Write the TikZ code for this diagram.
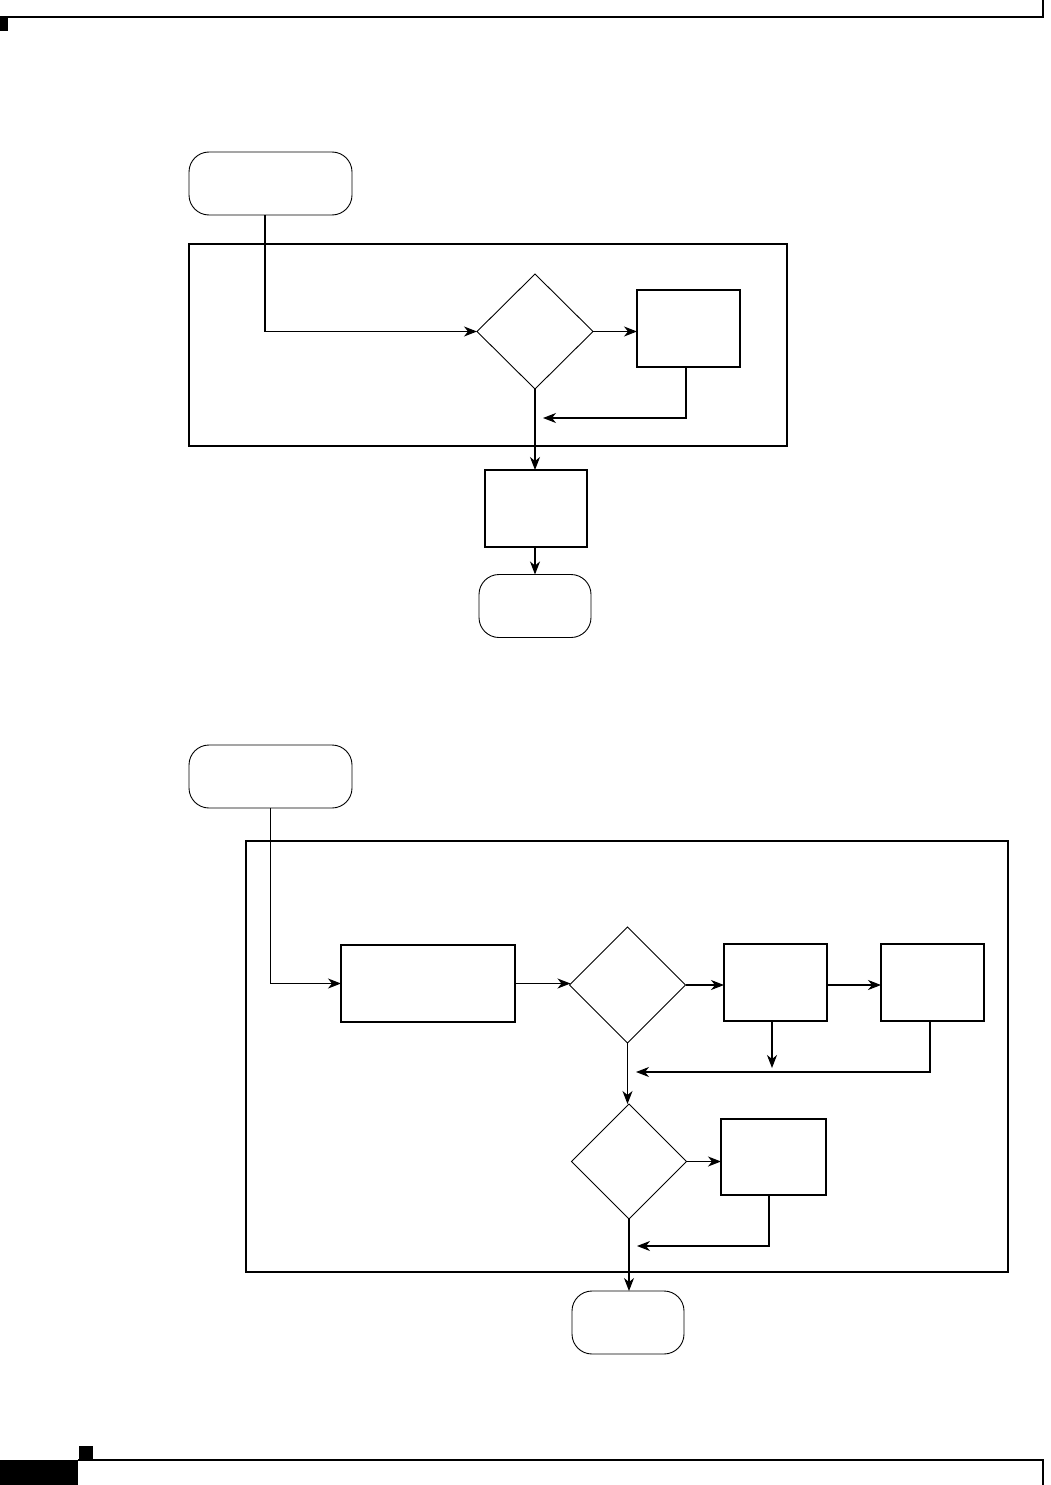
\documentclass[tikz,border=0pt]{standalone}
\usetikzlibrary{arrows.meta,shapes.geometric}
\begin{document}
\begin{tikzpicture}[x=1pt,y=-1pt,
  boxn/.style={draw,line width=1.1pt,rectangle,inner sep=0pt,outer sep=0pt},
  termn/.style={draw,line width=0.9pt,rectangle,rounded corners=20pt,inner sep=0pt,outer sep=0pt},
  decn/.style={draw,line width=0.9pt,diamond,inner sep=0pt,outer sep=0pt},
  framen/.style={draw,line width=1.1pt,rectangle,inner sep=0pt,outer sep=0pt},
  arr/.style={line width=1.1pt,-{Stealth[length=13pt,width=10pt,inset=4pt]}}]
\useasboundingbox (0,0) rectangle (1051,1485);
% page header / footer
\draw[line width=1.5pt] (0,17) -- (1043,17) -- (1043,0);
\fill (0,18) rectangle (8,31);
\draw[line width=1.5pt] (78,1460) -- (1043,1460) -- (1043,1485);
\fill (0,1460) rectangle (78,1485);
\fill (79,1446) rectangle (93,1460);
% ===== top diagram =====
\node[termn,minimum width=163pt,minimum height=63pt] (s1) at (270.5,183.5) {};
\node[framen,minimum width=598pt,minimum height=202pt] (f1) at (488,345) {};
\node[decn,minimum width=116pt,minimum height=115pt] (d1) at (535,331.5) {};
\node[boxn,minimum width=103pt,minimum height=77pt] (b1) at (688.5,328.5) {};
\node[boxn,minimum width=102pt,minimum height=77pt] (b2) at (536,508.5) {};
\node[termn,minimum width=112pt,minimum height=63pt] (t1) at (535,606) {};
\coordinate (j1) at (543,418);
\draw[arr] ([xshift=-5.5pt]s1.south) |- (d1.west);
\draw[arr] (d1.east) -- (b1.west |- d1.east);
\draw[arr] ([xshift=-2.5pt]b1.south) |- (j1);
\draw[arr] (d1.south) -- (b2.north -| d1.south);
\draw[arr] (b2.south -| d1.south) -- (t1.north);
% ===== bottom diagram =====
\node[termn,minimum width=163pt,minimum height=63pt] (s2) at (270.5,776.5) {};
\node[framen,minimum width=762pt,minimum height=431pt] (f2) at (627,1056.5) {};
\node[boxn,minimum width=174pt,minimum height=77pt] (b3) at (428,983.5) {};
\node[decn,minimum width=116pt,minimum height=116pt] (d2) at (627.5,985) {};
\node[boxn,minimum width=103pt,minimum height=77pt] (b4) at (775.5,982.5) {};
\node[boxn,minimum width=103pt,minimum height=77pt] (b5) at (932.5,982.5) {};
\node[decn,minimum width=115pt,minimum height=115pt] (d3) at (629,1161.5) {};
\node[boxn,minimum width=105pt,minimum height=76pt] (b6) at (773.5,1157) {};
\node[termn,minimum width=112pt,minimum height=63pt] (t2) at (628,1322.5) {};
\coordinate (j2) at (636,1072);
\coordinate (j3) at (637,1246);
\coordinate (k1) at (772,1068);
\draw[arr] (s2.south) |- (b3.west);
\draw[arr] (b3.east) -- ([xshift=1pt]d2.west |- b3.east);
\draw[arr] (d2.east) -- (b4.west |- d2.east);
\draw[arr] (b4.east |- d2.east) -- (b5.west |- d2.east);
\draw[arr] ([xshift=-3.5pt]b4.south) -- (k1);
\draw[arr] ([xshift=-2.5pt]b5.south) |- (j2);
\draw[arr] (d2.south) -- (d3.north -| d2.south);
\draw[arr] (d3.east) -- (b6.west |- d3.east);
\draw[arr] ([xshift=-4.5pt]b6.south) |- (j3);
\draw[arr] (d3.south) -- (t2.north -| d3.south);
\end{tikzpicture}
\end{document}
